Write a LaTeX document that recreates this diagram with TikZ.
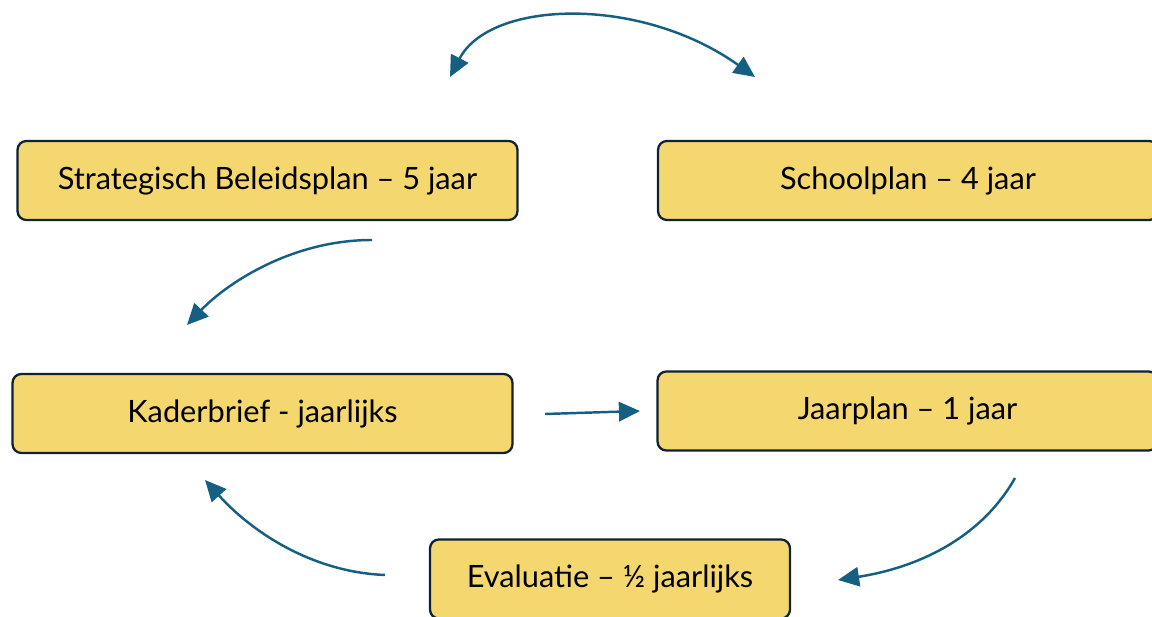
\documentclass[tikz,border=0pt]{standalone}
\usepackage{fontspec}
\setmainfont{Lato}
\usepackage{tikz}
\usetikzlibrary{arrows.meta,positioning}

\definecolor{boxfill}{HTML}{F4D76E}
\definecolor{boxline}{HTML}{0E2233}
\definecolor{arrowblue}{HTML}{156082}

\begin{document}
\begin{tikzpicture}[x=0.02cm,y=-0.02cm,>={Triangle[length=12pt,width=11pt]},
                    main node/.style={rectangle,rounded corners=5pt,draw=boxline,fill=boxfill,
                      line width=1.3pt,minimum width=10cm,minimum height=1.58cm,
                      font=\fontsize{17.5}{20}\selectfont},
                    flow/.style={->,draw=arrowblue,line width=1.4pt}]

      \clip (0,0) rectangle (1152,617);
      \useasboundingbox (0,0) rectangle (1152,617);

      \node[main node] (1) at (267.5,180.5) {Strategisch Beleidsplan -- 5 jaar};
      \node[main node] (2) at (908,180.5) {Schoolplan -- 4 jaar};
      \node[main node] (3) at (262.5,413.5) {Kaderbrief - jaarlijks};
      \node[main node] (4) at (907.5,411) {Jaarplan -- 1 jaar};
      \node[main node,minimum width=7.2cm] (5) at (610,579) {Evaluatie -- \char"00BD{} jaarlijks};

      % loose ends of the arrows
      \coordinate (a1) at (450,77);
      \coordinate (a2) at (755,77);
      \coordinate (b1) at (372,240);
      \coordinate (b2) at (187,325);
      \coordinate (c1) at (545,414);
      \coordinate (c2) at (640,411);
      \coordinate (d1) at (1015,478);
      \coordinate (d2) at (838,580);
      \coordinate (e1) at (385,575);
      \coordinate (e2) at (205,480);

      \draw[flow,<->] (a1) .. controls (490,0) and (640,-5) .. (a2);
      \draw[flow] (b1) .. controls (290,240) and (225,285) .. (b2);
      \draw[flow] (c1) -- (c2);
      \draw[flow] (d1) .. controls (980,540) and (915,568) .. (d2);
      \draw[flow] (e1) .. controls (310,572) and (250,530) .. (e2);
\end{tikzpicture}
\end{document}
